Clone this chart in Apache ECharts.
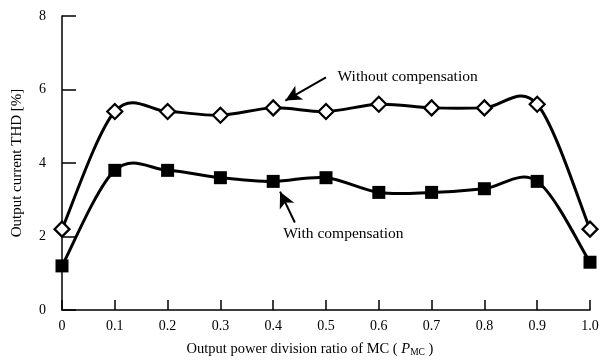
<!DOCTYPE html>
<html>
<head>
<meta charset="utf-8">
<script src="https://cdn.jsdelivr.net/npm/echarts@6/dist/echarts.min.js"></script>
<style>
  html, body { margin: 0; padding: 0; background: #fff; }
  #chart { width: 610px; height: 362px; }
</style>
</head>
<body>
<div id="chart"></div>
<script>
// Power division ratio of the MC (x) and output current THD in % (y)
const ratios = [0, 0.1, 0.2, 0.3, 0.4, 0.5, 0.6, 0.7, 0.8, 0.9, 1.0];
const thdWithout = [2.2, 5.4, 5.4, 5.3, 5.5, 5.4, 5.6, 5.5, 5.5, 5.6, 2.2];
const thdWith = [1.2, 3.8, 3.8, 3.6, 3.5, 3.6, 3.2, 3.2, 3.3, 3.5, 1.3];
const xTickLabels = ['0', '0.1', '0.2', '0.3', '0.4', '0.5', '0.6', '0.7', '0.8', '0.9', '1.0'];
const yTickLabels = ['0', '2', '4', '6', '8'];

const font = 'Liberation Serif';
const pairs = (xs, ys) => xs.map((x, i) => [x, ys[i]]);

// Catmull-Rom style smooth curve through the measured points,
// one cubic segment per data item, positioned through the axes.
function curveSeries(ys) {
  return {
    type: 'custom',
    silent: true,
    z: 2,
    data: pairs(ratios.slice(0, -1), ys.slice(0, -1)),
    renderItem: (params, api) => {
      const i = params.dataIndex;
      const n = ratios.length;
      const pt = (j) => api.coord([ratios[j], ys[j]]);
      const p0 = pt(Math.max(i - 1, 0));
      const p1 = pt(i);
      const p2 = pt(i + 1);
      const p3 = pt(Math.min(i + 2, n - 1));
      return {
        type: 'bezierCurve',
        shape: {
          x1: p1[0], y1: p1[1], x2: p2[0], y2: p2[1],
          cpx1: p1[0] + (p2[0] - p0[0]) / 6, cpy1: p1[1] + (p2[1] - p0[1]) / 6,
          cpx2: p2[0] - (p3[0] - p1[0]) / 6, cpy2: p2[1] - (p3[1] - p1[1]) / 6
        },
        style: { stroke: '#000', lineWidth: 3, fill: null, lineCap: 'round' }
      };
    }
  };
}

const chart = echarts.init(document.getElementById('chart'));
chart.setOption({
  animation: false,
  backgroundColor: '#fff',
  textStyle: { fontFamily: font, color: '#000' },
  grid: { left: 62, right: 20, top: 16, bottom: 46 },
  xAxis: {
    type: 'value', min: 0, max: 1, interval: 0.1,
    axisLine: { lineStyle: { color: '#000', width: 1.5 } },
    axisTick: { inside: true, length: 10, lineStyle: { color: '#000', width: 1.5 } },
    splitLine: { show: false },
    axisLabel: {
      fontFamily: font, fontSize: 14, color: '#000', margin: 9,
      formatter: (v) => xTickLabels[Math.round(v * 10)]
    },
    name: 'Output power division ratio of MC ( {i|P}{s|MC} )',
    nameLocation: 'middle', nameGap: 31,
    nameTextStyle: {
      fontFamily: font, fontSize: 14.5, color: '#000', padding: [0, 32, 0, 0],
      rich: {
        i: { fontFamily: font, fontSize: 14.5, fontStyle: 'italic', color: '#000' },
        s: { fontFamily: font, fontSize: 9.5, color: '#000', padding: [6, 0, 0, 0] }
      }
    }
  },
  yAxis: {
    type: 'value', min: 0, max: 8, interval: 2,
    axisLine: { show: true, lineStyle: { color: '#000', width: 1.5 } },
    axisTick: { show: true, inside: true, length: 14, lineStyle: { color: '#000', width: 1.5 } },
    splitLine: { show: false },
    axisLabel: {
      fontFamily: font, fontSize: 14, color: '#000', margin: 16,
      formatter: (v) => yTickLabels[Math.round(v / 2)]
    },
    name: 'Output current THD [%]',
    nameLocation: 'middle', nameGap: 37,
    nameTextStyle: { fontFamily: font, fontSize: 15, color: '#000' }
  },
  series: [
    curveSeries(thdWithout),
    curveSeries(thdWith),
    {
      name: 'Without compensation',
      type: 'scatter',
      data: pairs(ratios, thdWithout),
      symbol: 'diamond', symbolSize: 15,
      itemStyle: { color: '#fff', borderColor: '#000', borderWidth: 2.2, opacity: 1 },
      z: 4,
      markLine: {
        silent: true, symbol: ['none', 'arrow'], symbolSize: [12, 16],
        lineStyle: { color: '#000', width: 2, type: 'solid' },
        label: { show: false },
        data: [
          [{ coord: [0.50, 6.33] }, { coord: [0.423, 5.70] }],
          [{ coord: [0.441, 2.38] }, { coord: [0.413, 3.22] }]
        ]
      },
      markPoint: {
        silent: true, symbol: 'rect', symbolSize: 1,
        itemStyle: { color: 'rgba(0,0,0,0)' },
        label: {
          show: true, position: 'right', distance: 0,
          fontFamily: font, fontSize: 15.5, color: '#000',
          formatter: (p) => p.name
        },
        data: [
          { name: 'Without compensation', coord: [0.521, 6.35] },
          { name: 'With compensation', coord: [0.418, 2.08] }
        ]
      }
    },
    {
      name: 'With compensation',
      type: 'scatter',
      data: pairs(ratios, thdWith),
      symbol: 'rect', symbolSize: 13,
      itemStyle: { color: '#000', opacity: 1 },
      z: 4
    }
  ]
});
</script>
</body>
</html>
